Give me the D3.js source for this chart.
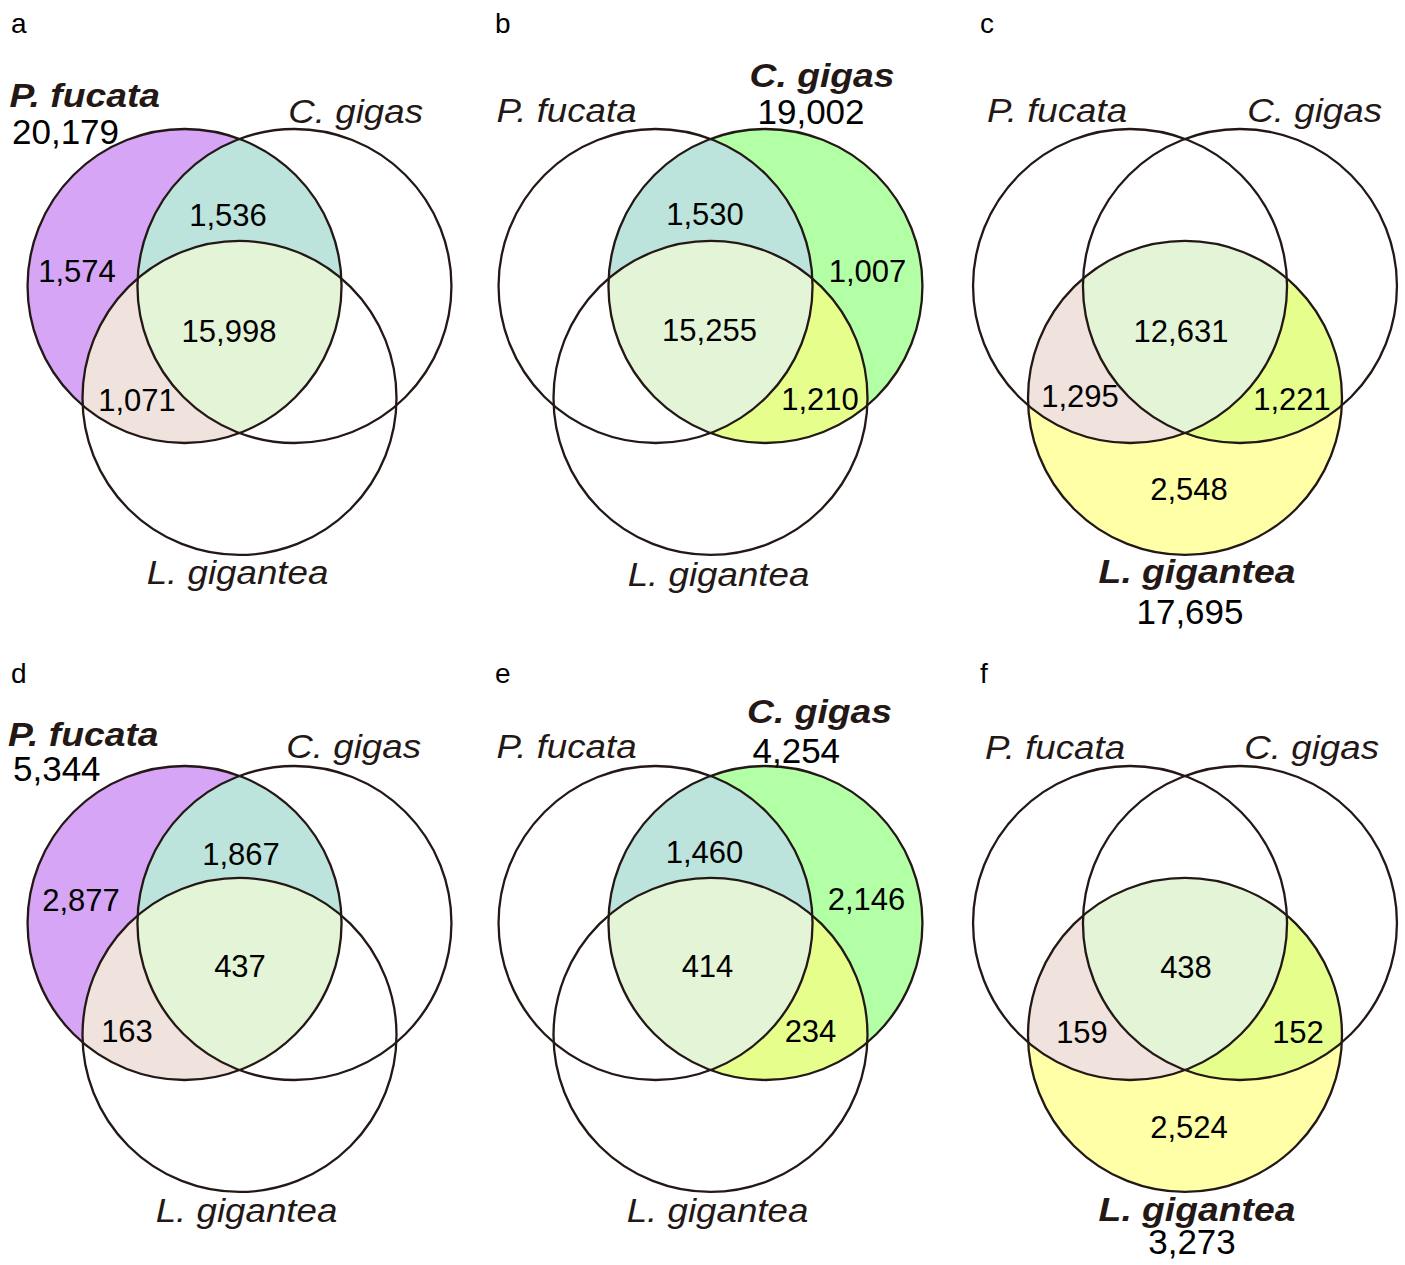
<!DOCTYPE html>
<html>
<head>
<meta charset="utf-8">
<script src="https://cdn.jsdelivr.net/npm/d3@7/dist/d3.min.js"></script>
<style>
  body { margin: 0; background: #fff; }
  svg { display: block; font-family: "Liberation Sans", Arial, sans-serif; }
</style>
</head>
<body>
<div id="chart"></div>
<script>
// ---- data ----
var panels = ["a", "b", "c", "d", "e", "f"];
var species = ["P. fucata", "C. gigas", "L. gigantea"];
var focus = [0, 1, 2, 0, 1, 2];                       // index into species
var totals = [20179, 19002, 17695, 5344, 4254, 3273];
var focusOnly = [1574, 1007, 2548, 2877, 2146, 2524];
var sharedPfCg = [1536, 1530, null, 1867, 1460, null];
var sharedPfLg = [1071, null, 1295, 163, null, 159];
var sharedCgLg = [null, 1210, 1221, null, 234, 152];
var sharedAll = [15998, 15255, 12631, 437, 414, 438];

// ---- layout ----
var width = 1405, height = 1265;
var R = 157;
var colX = [239.5, 710.5, 1185];
var rowY = [286, 923];
var letterY = [33, 683];
var letterX = [11, 495, 980];
// circle centres in radius units (PF, CG, LG)
var unitCx = [-0.35, 0.35, 0];
var unitCy = [0, 0, 0.713];

var regionColor = {
  "PF": "#d6a5f5", "CG": "#b3ffa6", "LG": "#ffffa8",
  "PF_CG": "#bce3dc", "PF_LG": "#f0e2dc", "CG_LG": "#e6ff8c",
  "ALL": "#e3f4d7"
};
var shortName = ["PF", "CG", "LG"];
var ink = "#231815";
var nameStretch = 1.13;   // species names are drawn a little wide

// number label offsets (centre x, baseline y) from panel origin
var numPos = {
  a: {only: [-162.5, -4], PF_CG: [-11.5, -60], PF_LG: [-102.5, 125], ALL: [-10.5, 56]},
  b: {only: [157, -4], PF_CG: [-5.5, -61], CG_LG: [109.5, 124], ALL: [-1, 55]},
  c: {only: [4, 214], PF_LG: [-105, 121], CG_LG: [107, 124], ALL: [-4, 56]},
  d: {only: [-158.5, -12], PF_CG: [1.5, -58], PF_LG: [-112.5, 119], ALL: [0.5, 54]},
  e: {only: [156, -13], PF_CG: [-6, -60], CG_LG: [100, 119], ALL: [-3, 54]},
  f: {only: [4, 215], PF_LG: [-103, 120], CG_LG: [113, 120], ALL: [1, 55]}
};

// species name labels: [anchor, dx, dy] for PF, CG, LG, then the total
var namePos = {
  a: [["start", -230, -179], ["end", 183.5, -163], ["middle", -2, 298], ["start", -227.5, -142]],
  b: [["start", -214, -164], ["middle", 111.5, -199], ["middle", 8, 300], ["start", 47, -162]],
  c: [["start", -198, -164], ["end", 197, -164], ["middle", 12, 297], ["middle", 5, 338]],
  d: [["start", -231.5, -177], ["end", 181.5, -165], ["middle", 7, 299], ["start", -226.5, -142]],
  e: [["start", -214, -165], ["middle", 109, -200], ["middle", 7, 299], ["start", 42, -160]],
  f: [["start", -200, -164], ["end", 194, -164], ["middle", 12, 298], ["middle", 7, 331]]
};

var fmt = d3.format(",");

var svg = d3.select("#chart").append("svg")
  .attr("width", width)
  .attr("height", height);

var defs = svg.append("defs");

function pairKey(i, j) {
  var a = Math.min(i, j), b = Math.max(i, j);
  return shortName[a] + "_" + shortName[b];
}

function regionValue(key, p) {
  if (key === "PF_CG") return sharedPfCg[p];
  if (key === "PF_LG") return sharedPfLg[p];
  if (key === "CG_LG") return sharedCgLg[p];
  if (key === "ALL") return sharedAll[p];
  return focusOnly[p];
}

function drawPanel(p) {
  var letter = panels[p];
  var col = p % 3, row = Math.floor(p / 3);
  var ox = colX[col], oy = rowY[row];

  var x = d3.scaleLinear().domain([-1, 1]).range([ox - R, ox + R]);
  var y = d3.scaleLinear().domain([-1, 1]).range([oy - R, oy + R]);
  var r = x(1) - x(0);

  var circles = species.map(function(s, k) {
    return {k: k, cx: x(unitCx[k]), cy: y(unitCy[k])};
  });

  // clip paths, one for each circle
  circles.forEach(function(c) {
    defs.append("clipPath")
      .attr("id", "clip-" + letter + "-" + c.k)
      .append("circle")
      .attr("cx", c.cx).attr("cy", c.cy).attr("r", r);
  });

  var g = svg.append("g").attr("class", "panel-" + letter);
  var f = focus[p];
  var others = [0, 1, 2].filter(function(k) { return k !== f; });
  var fc = circles[f];

  // focus circle, its own colour
  g.append("circle")
    .attr("cx", fc.cx).attr("cy", fc.cy).attr("r", r)
    .attr("fill", regionColor[shortName[f]]);

  // pairwise overlaps
  others.forEach(function(o) {
    g.append("circle")
      .attr("cx", fc.cx).attr("cy", fc.cy).attr("r", r)
      .attr("clip-path", "url(#clip-" + letter + "-" + o + ")")
      .attr("fill", regionColor[pairKey(f, o)]);
  });

  // triple overlap
  g.append("g")
    .attr("clip-path", "url(#clip-" + letter + "-" + others[0] + ")")
    .append("circle")
    .attr("cx", fc.cx).attr("cy", fc.cy).attr("r", r)
    .attr("clip-path", "url(#clip-" + letter + "-" + others[1] + ")")
    .attr("fill", regionColor.ALL);

  // outlines
  g.selectAll("circle.outline")
    .data(circles)
    .enter().append("circle")
    .attr("class", "outline")
    .attr("cx", function(d) { return d.cx; })
    .attr("cy", function(d) { return d.cy; })
    .attr("r", r)
    .attr("fill", "none")
    .attr("stroke", ink)
    .attr("stroke-width", 2.3);

  // region counts
  var regions = Object.keys(numPos[letter]).map(function(key) {
    return {key: key, value: regionValue(key, p), pos: numPos[letter][key]};
  });
  g.selectAll("text.count")
    .data(regions)
    .enter().append("text")
    .attr("class", "count")
    .attr("x", function(d) { return ox + d.pos[0]; })
    .attr("y", function(d) { return oy + d.pos[1]; })
    .attr("text-anchor", "middle")
    .attr("font-size", 31)
    .attr("fill", "#000")
    .text(function(d) { return fmt(d.value); });

  // species names
  var pos = namePos[letter];
  species.forEach(function(s, k) {
    var bold = (k === f);
    g.append("text")
      .attr("transform", "translate(" + (ox + pos[k][1]) + "," + (oy + pos[k][2]) + ") scale(" + nameStretch + ",1)")
      .attr("text-anchor", pos[k][0])
      .attr("font-size", bold ? 33 : 32.5)
      .attr("font-style", "italic")
      .attr("font-weight", bold ? "bold" : "normal")
      .attr("fill", ink)
      .text(s);
  });

  // total under the bold name
  g.append("text")
    .attr("x", ox + pos[3][1])
    .attr("y", oy + pos[3][2])
    .attr("text-anchor", pos[3][0])
    .attr("font-size", 35)
    .attr("fill", "#000")
    .text(fmt(totals[p]));

  // panel letter
  svg.append("text")
    .attr("x", letterX[col])
    .attr("y", letterY[row])
    .attr("font-size", 28)
    .attr("fill", "#000")
    .text(letter);
}

panels.forEach(function(d, i) { drawPanel(i); });
</script>
</body>
</html>
